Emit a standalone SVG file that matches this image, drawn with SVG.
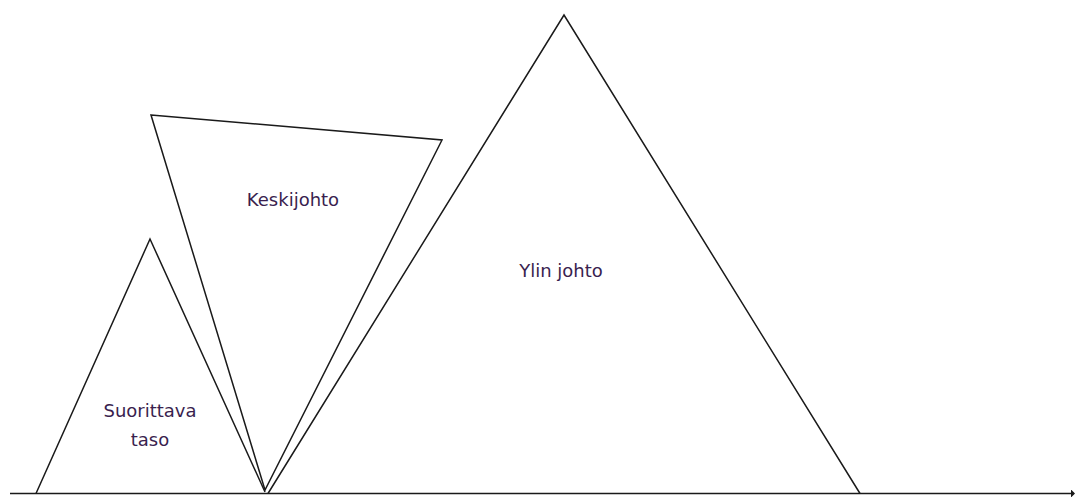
<svg xmlns="http://www.w3.org/2000/svg" width="1076" height="497" viewBox="0 0 1076 497">
<style>
.shape{fill:none;stroke:#1a1a1a;stroke-width:1.5;stroke-linejoin:miter}
.lbl{font-family:"DejaVu Sans",Verdana,sans-serif;font-size:18px;fill:#3a1f4f;text-anchor:middle}
</style>
<defs>
<marker id="arr" markerWidth="4" markerHeight="8" refX="3" refY="4" orient="auto" markerUnits="userSpaceOnUse">
<path d="M0,0 L4,4 L0,8 Z" fill="#1a1a1a"/>
</marker>
</defs>
<g id="connectors">
<line class="shape" x1="10" y1="493.5" x2="1074" y2="493.5" marker-end="url(#arr)"/>
</g>
<g id="suorittava">
<polyline class="shape" points="36,493.5 150,239 265,492"/>
<text class="lbl" x="150" y="417">Suorittava</text>
<text class="lbl" x="150" y="446">taso</text>
</g>
<g id="keskijohto">
<polygon class="shape" points="151,115 442,140 265,490"/>
<text class="lbl" x="293" y="206">Keskijohto</text>
</g>
<g id="ylin">
<polyline class="shape" points="268,493.5 564,15 860,493.5"/>
<text class="lbl" x="561" y="277">Ylin johto</text>
</g>
</svg>
